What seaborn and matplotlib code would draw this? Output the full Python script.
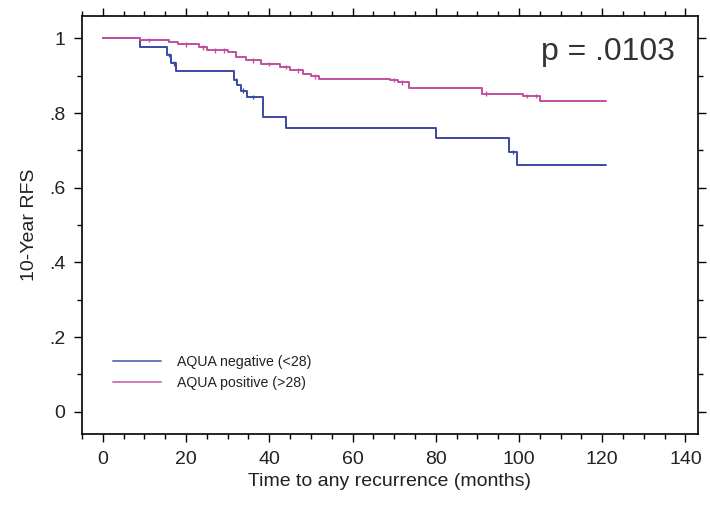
import matplotlib
matplotlib.use("Agg")
import matplotlib.pyplot as plt
from matplotlib.ticker import MultipleLocator, FixedLocator
import seaborn as sns
import pandas as pd

# Kaplan-Meier step estimates: time (months) and survival after each step
neg_times = [0, 9, 15.5, 16.5, 17.5, 31.5, 32.3, 33.2, 34.6, 38.5, 44, 80, 97.7, 99.6, 121]
neg_surv = [1.0, 0.977, 0.955, 0.933, 0.912, 0.889, 0.875, 0.860, 0.843, 0.789,
            0.760, 0.732, 0.696, 0.660, 0.660]

pos_times = [0, 9, 16, 18, 23, 25, 30, 32, 34.5, 38, 42.5, 45, 48, 50, 52,
             69, 71, 73.5, 91, 101, 105, 121]
pos_surv = [1.0, 0.995, 0.991, 0.984, 0.976, 0.968, 0.963, 0.951, 0.941, 0.932,
            0.923, 0.914, 0.905, 0.898, 0.892, 0.888, 0.882, 0.866, 0.852,
            0.846, 0.832, 0.832]

# censored observations (tick marks on the curves)
neg_cens = [15.8, 17.0, 32.0, 33.6, 36.0, 98.5]
pos_cens = [11, 20, 24, 27, 29, 36, 40, 44, 47, 51, 70, 72, 92, 102, 104]

groups = ["AQUA negative (<28)", "AQUA positive (>28)"]
x_ticks = [0, 20, 40, 60, 80, 100, 120, 140]
y_ticks = [0, 0.2, 0.4, 0.6, 0.8, 1.0]
y_ticklabels = ["0", ".2", ".4", ".6", ".8", "1"]
p_text = "p = .0103"

palette = {groups[0]: "#3a4aa2", groups[1]: "#c24f9f"}

sns.set_style("ticks")
plt.rcParams["font.family"] = ["Liberation Sans", "DejaVu Sans"]

curves = pd.concat([
    pd.DataFrame({"time": neg_times, "surv": neg_surv, "group": groups[0]}),
    pd.DataFrame({"time": pos_times, "surv": pos_surv, "group": groups[1]}),
], ignore_index=True)


def surv_at(times, surv, t):
    val = surv[0]
    for ti, si in zip(times, surv):
        if ti <= t:
            val = si
    return val


cens = pd.concat([
    pd.DataFrame({"time": neg_cens,
                  "surv": [surv_at(neg_times, neg_surv, t) for t in neg_cens],
                  "group": groups[0]}),
    pd.DataFrame({"time": pos_cens,
                  "surv": [surv_at(pos_times, pos_surv, t) for t in pos_cens],
                  "group": groups[1]}),
], ignore_index=True)

fig = plt.figure(figsize=(7.1, 5.15), dpi=100)
ax = fig.add_axes([0.1155, 0.157, 0.8675, 0.812])

sns.lineplot(data=curves, x="time", y="surv", hue="group", hue_order=groups,
             palette=palette, drawstyle="steps-post", estimator=None,
             linewidth=1.4, ax=ax)
sns.scatterplot(data=cens, x="time", y="surv", hue="group", hue_order=groups,
                palette=palette, marker="|", s=10, linewidth=1.0,
                legend=False, ax=ax, zorder=3)

ax.set_xlim(-5, 143)
ax.set_ylim(-0.06, 1.06)
ax.xaxis.set_major_locator(FixedLocator(x_ticks))
ax.xaxis.set_minor_locator(MultipleLocator(5))
ax.yaxis.set_major_locator(FixedLocator(y_ticks))
ax.set_yticklabels(y_ticklabels)
ax.yaxis.set_minor_locator(MultipleLocator(0.1))
ax.tick_params(which="both", direction="out", top=True, right=True,
               labeltop=False, labelright=False, color="black", width=1.0,
               labelcolor="#222222")
ax.tick_params(which="major", length=6, labelsize=14, pad=6)
ax.tick_params(which="minor", length=3.5)
for sp in ax.spines.values():
    sp.set_linewidth(1.2)
    sp.set_color("black")

ax.set_xlabel("Time to any recurrence (months)", fontsize=14, labelpad=4,
              color="#222222")
ax.set_ylabel("10-Year RFS", fontsize=14, labelpad=8, color="#222222")

ax.text(0.962, 0.914, p_text, transform=ax.transAxes, ha="right", va="center",
        fontsize=23, color="#333333")

leg = ax.legend(loc="lower left", bbox_to_anchor=(0.03, 0.075), frameon=False,
                handlelength=3.4, handletextpad=1.1, labelspacing=0.5,
                prop={"size": 10.2})
for line in leg.get_lines():
    line.set_linewidth(1.4)
    line.set_alpha(0.75)
for txt in leg.get_texts():
    txt.set_color("#222222")

fig.savefig("out.png", dpi=100, facecolor="white")
